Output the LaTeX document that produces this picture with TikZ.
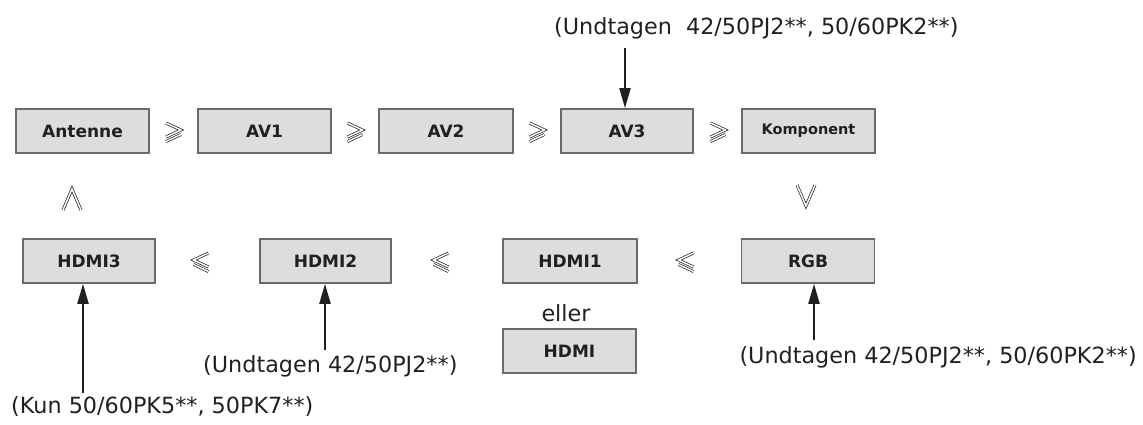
\documentclass[tikz,border=0pt]{standalone}
\usepackage{fontspec}
\setmainfont{DejaVu Sans}
\usetikzlibrary{arrows.meta,calc}
\definecolor{boxfill}{HTML}{DCDDDF}
\definecolor{boxline}{HTML}{6A6A6A}
\definecolor{ink}{HTML}{231F20}
\tikzset{
  srcbox/.style={draw=boxline, fill=boxfill, line width=1.6pt, minimum height=44pt,
    inner sep=0pt, text=ink, font=\fontsize{17}{19}\selectfont\bfseries},
  note/.style={text=ink, inner sep=0pt, font=\fontsize{22.3}{24}\selectfont},
  arr/.style={draw=ink, line width=2pt, -{Triangle[length=20pt,width=11pt]}},
  hollow/.style={draw=ink, line width=0.7pt, double=white, double distance=1.5pt, line join=miter}
}
\begin{document}
\begin{tikzpicture}[x=1pt,y=-1pt]
\useasboundingbox (0,0) rectangle (1143,425);
% top row
\node[srcbox, minimum width=133pt] (ant) at (82.5,131) {Antenne};
\node[srcbox, minimum width=133pt] (av1) at (264.5,131) {AV1};
\node[srcbox, minimum width=134pt] (av2) at (446,131) {AV2};
\node[srcbox, minimum width=132pt] (av3) at (627,131) {AV3};
\node[srcbox, minimum width=133pt, font=\fontsize{14.5}{16}\selectfont\bfseries] (komp) at (808.5,131) {Komponent};
% bottom row
\node[srcbox, minimum width=132pt] (h3) at (89,261) {HDMI3};
\node[srcbox, minimum width=131pt] (h2) at (325.5,261) {HDMI2};
\node[srcbox, minimum width=134pt] (h1) at (570,261) {HDMI1};
\node[srcbox, minimum width=133pt] (rgb) at (808,261) {RGB};
\node[note] (eller) at (566,313.5) {eller};
\node[srcbox, minimum width=133pt] (hdmi) at (569.5,351) {HDMI};
% hollow relation symbols (right-pointing)
\foreach \cx in {173.5,355,537,718}{
  \draw[hollow] (\cx-7.5,123) -- (\cx+7.5,130) -- (\cx-7.5,137);
  \draw[hollow] (\cx-7.5,141.5) -- (\cx+7.5,134.5);
}
% left-pointing
\foreach \cx in {201,441,686}{
  \draw[hollow] (\cx+7.5,253) -- (\cx-7.5,260) -- (\cx+7.5,267);
  \draw[hollow] (\cx+7.5,271.5) -- (\cx-7.5,264.5);
}
% up (left column) and down (right column)
\draw[hollow] (63,210) -- (72,189) -- (81,210);
\draw[hollow] (797,185) -- (806,206) -- (815,185);
% notes and arrows
\node[note, anchor=west] (ltop) at (554,28) {(Undtagen\ \ 42/50PJ2**, 50/60PK2**)};
\node[note, anchor=east] (lrgb) at (1137,357) {(Undtagen 42/50PJ2**, 50/60PK2**)};
\node[note, anchor=west] (lh2) at (203,366) {(Undtagen 42/50PJ2**)};
\node[note, anchor=west] (lh3) at (11,407) {(Kun 50/60PK5**, 50PK7**)};
\coordinate (ctop) at (625,48);
\coordinate (crgb) at (814,340);
\coordinate (ch2) at (325,350);
\coordinate (ch3) at (83,393);
\draw[arr] (ctop) -- (ctop |- av3.north);
\draw[arr] (crgb) -- (crgb |- rgb.south);
\draw[arr] (ch2) -- (ch2 |- h2.south);
\draw[arr] (ch3) -- (ch3 |- h3.south);
\end{tikzpicture}
\end{document}
